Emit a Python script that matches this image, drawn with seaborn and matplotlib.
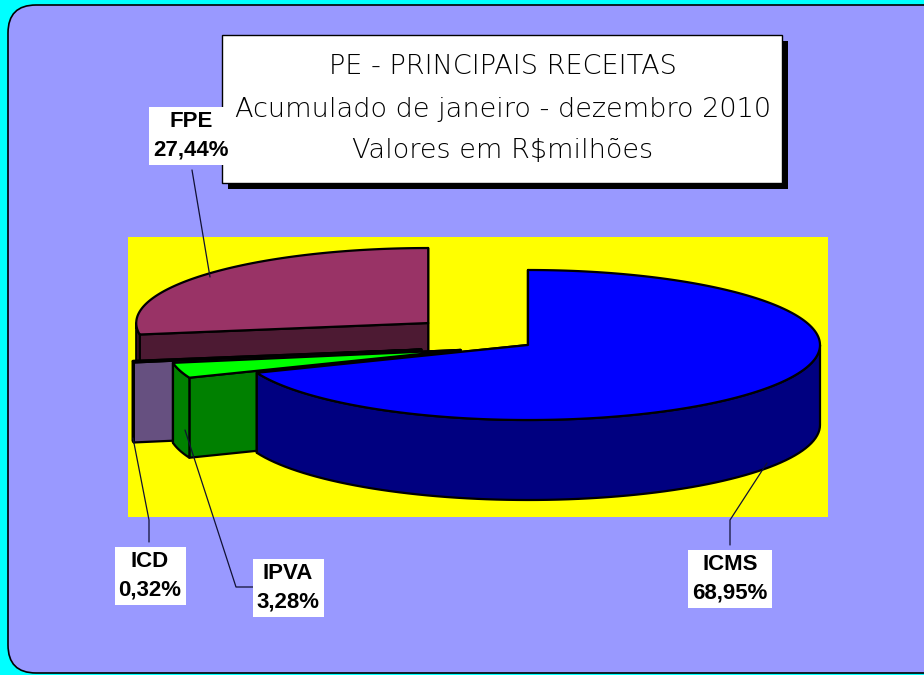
import numpy as np
import seaborn as sns
import matplotlib.pyplot as plt
from matplotlib.patches import Polygon, Rectangle, FancyBboxPatch

# data (clockwise from 12 o'clock)
categories = ['ICMS', 'IPVA', 'ICD', 'FPE']
values = [68.95, 3.28, 0.32, 27.44]
explode = [0.0, 0.24, 0.37, 0.45]

top_colors = ['#0000FF', '#00FF00', '#7A6699', '#993366']
side_colors = ['#000080', '#008000', '#665080', '#4D1A33']

title_lines = ['PE - PRINCIPAIS RECEITAS',
               'Acumulado de janeiro - dezembro 2010',
               'Valores em R$milhões']

sns.set_theme(style='white')

fig = plt.figure(figsize=(9.24, 6.75), dpi=100, facecolor='#00FFFF')
ax = fig.add_axes([0, 0, 1, 1])
ax.set_xlim(0, 924)
ax.set_ylim(675, 0)
ax.axis('off')

# rounded chart background (right side runs off the image)
ax.add_patch(FancyBboxPatch((8, 5), 960, 668, boxstyle='round,pad=0,rounding_size=28',
                            fc='#9999FF', ec='black', lw=1.2, zorder=0))
# plot area
ax.add_patch(Rectangle((128, 237), 700, 280, fc='#FFFF00', ec='none', zorder=1))

# pseudo 3D pie
cx0, cy0 = 528, 345
rx, ry, depth = 292, 75, 80


def pt(cx, cy, a):
    r = np.radians(a)
    return cx + rx * np.cos(r), cy - ry * np.sin(r)


total = sum(values)
cum = np.concatenate([[0], np.cumsum(values)]) / total * 360
z = 2
# back slices first
for i in reversed(range(len(values))):
    hi = 90 - cum[i]
    lo = 90 - cum[i + 1]
    mid = np.radians((hi + lo) / 2)
    cx = cx0 + explode[i] * rx * np.cos(mid)
    cy = cy0 - explode[i] * ry * np.sin(mid)
    kw = dict(ec='black', lw=1.6, joinstyle='round')

    # radial faces
    for a in (lo, hi):
        ex, ey = pt(cx, cy, a)
        ax.add_patch(Polygon([(cx, cy), (ex, ey), (ex, ey + depth), (cx, cy + depth)],
                             fc=side_colors[i], zorder=z, **kw))
        z += 1

    # outer wall, front half only
    for k in (-1, 0, 1):
        f0, f1 = max(lo, -180 + 360 * k), min(hi, 360 * k)
        if f1 > f0:
            arc = np.linspace(f0, f1, 80)
            upper = [pt(cx, cy, a) for a in arc]
            lower = [(x, y + depth) for x, y in upper[::-1]]
            ax.add_patch(Polygon(upper + lower, fc=side_colors[i], zorder=z, **kw))
            z += 1

    # top face
    arc = np.linspace(lo, hi, 200)
    ax.add_patch(Polygon([(cx, cy)] + [pt(cx, cy, a) for a in arc],
                         fc=top_colors[i], zorder=z, **kw))
    z += 1

# leader lines
leaders = {
    'FPE': [(192, 170), (210, 277)],
    'ICD': [(133, 438), (149, 520), (149, 542)],
    'IPVA': [(185, 430), (236, 587), (253, 587)],
    'ICMS': [(767, 463), (730, 520), (730, 545)],
}
for name, pts in leaders.items():
    xs, ys = zip(*pts)
    ax.plot(xs, ys, color='#111133', lw=0.9, zorder=z)

# title box with shadow
ax.add_patch(Rectangle((228, 41), 560, 148, fc='black', ec='none', zorder=z + 1))
ax.add_patch(Rectangle((222, 35), 560, 148, fc='white', ec='black', lw=1, zorder=z + 2))
for j, line in enumerate(title_lines):
    ax.text(503, 67 + j * 42, line, ha='center', va='center', fontsize=19.5,
            family='DejaVu Sans', fontweight='light', color='black', zorder=z + 3)

# data labels (drawn over the title box)
label_pos = {'FPE': (191, 136), 'ICD': (150, 576), 'IPVA': (288, 588), 'ICMS': (730, 579)}
for name, v in zip(categories, values):
    x, y = label_pos[name]
    ax.text(x, y, f"{name}\n{v:.2f}".replace('.', ',') + '%', ha='center', va='center',
            fontsize=16, fontweight='bold', family='Liberation Sans', linespacing=1.45,
            color='black',
            bbox=dict(boxstyle='square,pad=0.18', fc='white', ec='none'), zorder=z + 5)

fig.savefig('out.png', dpi=100, facecolor=fig.get_facecolor())
